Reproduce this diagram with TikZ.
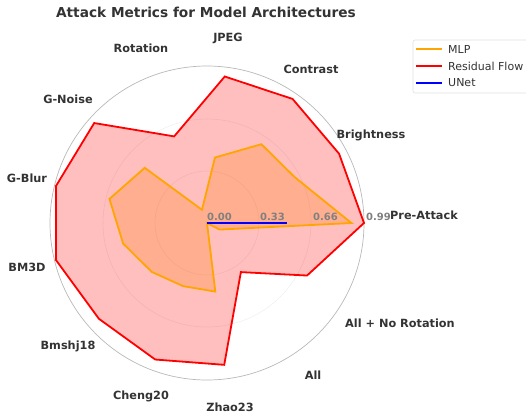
\documentclass[tikz,border=0pt]{standalone}
\usepackage{fontspec}
\setmainfont{DejaVu Sans}
\definecolor{textgray}{HTML}{333333}
\definecolor{tickgray}{HTML}{808080}
\definecolor{mlporange}{HTML}{FFA500}
\newcommand{\rfvalues}{1.00,0.95,0.96,0.94,0.59,0.96,0.99,0.99,0.92,0.93,0.91,0.38,0.72}
\newcommand{\mlpvalues}{0.92,0.63,0.61,0.42,0.09,0.53,0.64,0.55,0.47,0.43,0.44,0.00,0.09}
\begin{document}
\begin{tikzpicture}[x=1pt, y=1pt,
    axislabel/.style={font=\bfseries\fontsize{11.3}{13}\selectfont, text=textgray, inner sep=0pt},
    ticklabel/.style={font=\bfseries\fontsize{10}{12}\selectfont, text=tickgray, anchor=west, inner sep=0pt},
    ringline/.style={draw=black!6, line width=0.6pt},
    series/.style={line width=1.8pt, line join=miter},
    legendtext/.style={font=\fontsize{11}{13}\selectfont, text=textgray, anchor=west, inner sep=0pt}
]
\useasboundingbox (-207,-190) rectangle (319,223);

% Grid
\draw[ringline] (0,0) circle (52);
\draw[ringline] (0,0) circle (104);
\draw[draw=black!28, line width=0.7pt] (0,0) circle (157);

% Fills
\fill[mlporange, opacity=0.25] (0:{0.92*157}) \foreach \v [count=\i from 0] in \mlpvalues {-- ({\i*360/13}:{\v*157})} -- cycle;
\fill[red, opacity=0.25] (0:157) \foreach \v [count=\i from 0] in \rfvalues {-- ({\i*360/13}:{\v*157})} -- cycle;

% Series
\draw[series, mlporange] (0:{0.92*157}) \foreach \v [count=\i from 0] in \mlpvalues {-- ({\i*360/13}:{\v*157})} -- cycle;
\draw[series, red] (0:157) \foreach \v [count=\i from 0] in \rfvalues {-- ({\i*360/13}:{\v*157})} -- cycle;
\coordinate (center) at (0,0);
\coordinate (unetpeak) at (0:{0.51*157});
\draw[series, blue] (center) -- (unetpeak);

% Tick labels
\node[ticklabel] (t0) at (0,6) {0.00};
\node[ticklabel] (t1) at (53,6) {0.33};
\node[ticklabel] (t2) at (106,6) {0.66};
\node[ticklabel] (t3) at (159,6) {0.99};

% Axis labels
\node[axislabel] (preattack) at (217,8) {Pre-Attack};
\node[axislabel] (brightness) at (164,88) {Brightness};
\node[axislabel] (contrast) at (104,154) {Contrast};
\node[axislabel] (jpeg) at (21,185) {JPEG};
\node[axislabel] (rotation) at (-66,175) {Rotation};
\node[axislabel] (gnoise) at (-139,124) {G-Noise};
\node[axislabel] (gblur) at (-180,45) {G-Blur};
\node[axislabel] (bmthreed) at (-180,-44) {BM3D};
\node[axislabel] (bmshj) at (-139,-123) {Bmshj18};
\node[axislabel] (cheng) at (-66,-173) {Cheng20};
\node[axislabel] (zhao) at (23,-184) {Zhao23};
\node[axislabel] (all) at (106,-152) {All};
\node[axislabel] (allnorot) at (193,-100) {All + No Rotation};

% Title
\node[font=\bfseries\fontsize{13.7}{16}\selectfont, text=textgray] (title) at (-1,211) {Attack Metrics for Model Architectures};

% Legend
\draw[draw=black!12, fill=white, rounded corners=2pt, line width=0.6pt] (206,183) rectangle (330,130);
\draw[line width=1.5pt, mlporange] (209,174) -- (235,174);
\draw[line width=1.5pt, red] (209,157) -- (235,157);
\draw[line width=1.5pt, blue] (209,140) -- (235,140);
\node[legendtext] (lmlp) at (241,174) {MLP};
\node[legendtext] (lrf) at (241,157) {Residual Flow};
\node[legendtext] (lunet) at (241,140) {UNet};

\end{tikzpicture}
\end{document}
